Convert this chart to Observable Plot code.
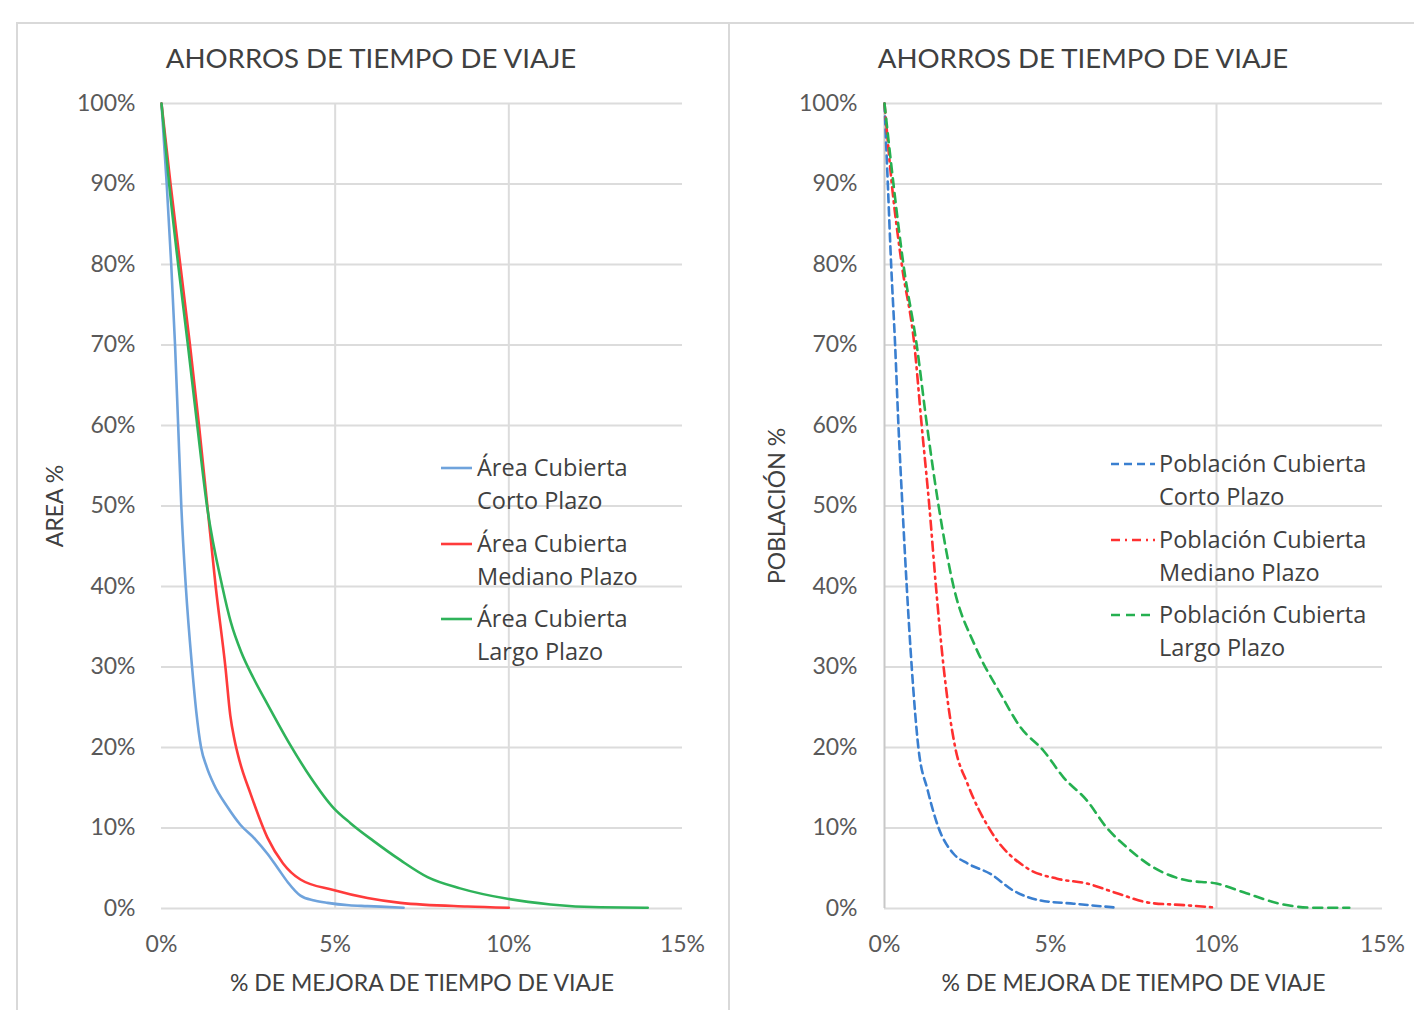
<!DOCTYPE html>
<html><head><meta charset="utf-8">
<script src="https://cdn.jsdelivr.net/npm/d3@7"></script>
<script src="https://cdn.jsdelivr.net/npm/@observablehq/plot@0.6"></script>
<style>
html,body{margin:0;padding:0;background:#fff;}
#wrap{position:relative;width:1414px;height:1010px;overflow:hidden;font-family:Lato,"Liberation Sans",sans-serif;}
.frame{position:absolute;border-top:2px solid #d9d9d9;border-left:2px solid #d9d9d9;}
.title{position:absolute;font-size:27.6px;color:#404040;white-space:nowrap;transform:translate(-50%,-50%);}
.plot{position:absolute;top:80px;}
.leg{position:absolute;font-family:"Open Sans",sans-serif;font-size:23.5px;color:#404040;line-height:33px;white-space:nowrap;}
.leg svg{position:absolute;}
svg [aria-label="x-axis label"] text, svg [aria-label="y-axis label"] text{font-size:23px;fill:#404040;}
</style></head>
<body><div id="wrap">
<div class="frame" style="left:16px;top:22px;width:1400px;height:1000px"></div>
<div class="frame" style="left:728px;top:22px;width:700px;height:1000px;border-top:none"></div>
<div class="title" style="left:371px;top:57px">AHORROS DE TIEMPO DE VIAJE</div>
<div class="title" style="left:1083px;top:57px">AHORROS DE TIEMPO DE VIAJE</div>
<div id="p1" class="plot" style="left:16px"></div>
<div id="p2" class="plot" style="left:728px"></div>
<div id="leg1"></div><div id="leg2"></div>
</div>
<script>
// ---- data (x = % mejora de tiempo de viaje, y = % cubierto) ----
const xTicks = [0, 5, 10, 15];
const yTicks = [0, 10, 20, 30, 40, 50, 60, 70, 80, 90, 100];
const chartTitle = "AHORROS DE TIEMPO DE VIAJE";
const xLabel = "% DE MEJORA DE TIEMPO DE VIAJE";

const areaSeries = ["Área Cubierta Corto Plazo", "Área Cubierta Mediano Plazo", "Área Cubierta Largo Plazo"];
const areaCorto = [[0,100],[0.15,90],[0.28,80],[0.39,70],[0.48,60],[0.57,50],[0.7,40],[0.88,30],[1.0,24.5],[1.14,20],[1.3,17.6],[1.5,15.5],[1.9,12.6],[2.27,10.4],[2.7,8.6],[3.05,6.8],[3.35,5],[3.63,3.3],[4.0,1.6],[4.4,1.0],[4.78,0.7],[5.4,0.4],[5.93,0.3],[6.97,0.1]];
const areaMediano = [[0,100],[0.26,90],[0.54,80],[0.82,70],[1.08,60],[1.32,50],[1.56,40],[1.84,30],[1.98,24],[2.1,21],[2.25,18.3],[2.56,14.3],[3.05,8.8],[3.5,5.6],[4.0,3.6],[4.95,2.3],[5.93,1.3],[6.88,0.7],[8.8,0.25],[10,0.1]];
const areaLargo = [[0,100],[0.22,90],[0.48,80],[0.76,70],[1.03,60],[1.31,50],[1.75,40],[2.0,35.5],[2.3,31.8],[2.65,28.6],[3.05,25.4],[3.71,20.3],[4.29,16.3],[4.95,12.5],[5.44,10.6],[6.1,8.4],[6.88,6],[7.66,3.9],[8.6,2.5],[9.96,1.2],[11.2,0.5],[12.64,0.15],[14,0.1]];

const poblSeries = ["Población Cubierta Corto Plazo", "Población Cubierta Mediano Plazo", "Población Cubierta Largo Plazo"];
const poblCorto = [[0,100],[0.1,90],[0.2,80],[0.32,70],[0.42,60],[0.54,50],[0.67,40],[0.82,30],[1.02,20],[1.3,14.7],[1.63,10],[2.08,6.8],[2.5,5.6],[3.19,4.3],[3.89,2.2],[4.7,1.0],[5.7,0.6],[7.0,0.1]];
const poblMediano = [[0,100],[0.22,90],[0.52,80],[0.9,70],[1.12,60],[1.35,50],[1.55,40],[1.78,30],[2.13,20],[2.5,15.5],[3.19,9.7],[4.3,5],[5.2,3.7],[6.1,3.1],[7.0,1.9],[8.0,0.7],[9.1,0.4],[10,0.1]];
const poblLargo = [[0,100],[0.27,90],[0.57,80],[0.97,70],[1.28,60],[1.63,50],[2.08,40],[2.73,32.6],[3.49,26.7],[4.1,22.5],[4.79,19.6],[5.39,16.3],[6.1,13.4],[6.7,10],[7.3,7.6],[8.1,5.1],[9.1,3.5],[10,3.1],[10.9,1.9],[11.9,0.6],[12.9,0.1],[14,0.1]];

// ---- styles ----
const areaColors = ["#6fa3dc", "#ff3b3b", "#2fb35a"];
const poblColors = ["#3a7fd0", "#ff3030", "#25b050"];
const poblDash = ["8,5", "9,5,2,5", "9,6"];
const gridColor = "#dcdcdc";

function toRows(arr, name) { return arr.map(([x, y]) => ({x, y, name})); }

function makePlot(opts) {
  const {series, data, colors, dash, vgrid, axisLine, yLabel, width, marginLeft, marginRight, yPad, yLabelOffset} = opts;
  const marks = [
    Plot.ruleY(yTicks, {x1: 0, x2: 15, stroke: gridColor, strokeWidth: 2}),
    Plot.ruleX(vgrid, {y1: 0, y2: 100, stroke: gridColor, strokeWidth: 2}),
  ];
  if (axisLine) marks.push(Plot.ruleX([0], {y1: 0, y2: 100, stroke: "#c8c8c8", strokeWidth: 2}));
  marks.push(
    Plot.axisX({ticks: xTicks, tickFormat: d => d + "%", tickSize: 0, tickPadding: 27,
      label: xLabel, labelAnchor: "center", labelArrow: "none", labelOffset: 82}),
    Plot.axisY({ticks: yTicks, tickFormat: d => d + "%", tickSize: 0, tickPadding: yPad,
      label: yLabel, labelAnchor: "center", labelArrow: "none", labelOffset: yLabelOffset})
  );
  data.forEach((d, i) => {
    marks.push(Plot.line(toRows(d, series[i]), {x: "x", y: "y", stroke: colors[i], strokeWidth: 2.6,
      strokeDasharray: dash ? dash[i] : null, curve: "monotone-x"}));
  });
  return Plot.plot({
    width, height: 925, marginLeft, marginRight, marginTop: 23, marginBottom: 97,
    x: {domain: [0, 15]}, y: {domain: [0, 100]},
    style: {fontFamily: "Lato, 'Liberation Sans', sans-serif", fontSize: "23px", color: "#595959", background: "transparent", overflow: "visible"},
    marks
  });
}

document.getElementById("p1").append(makePlot({
  series: areaSeries, data: [areaCorto, areaMediano, areaLargo], colors: areaColors,
  dash: null, vgrid: [5, 10], axisLine: false, yLabel: "AREA %", width: 712, marginLeft: 145, marginRight: 46,
  yPad: 26, yLabelOffset: 115
}));
document.getElementById("p2").append(makePlot({
  series: poblSeries, data: [poblCorto, poblMediano, poblLargo], colors: poblColors,
  dash: poblDash, vgrid: [10], axisLine: true, yLabel: "POBLACIÓN %", width: 686, marginLeft: 156, marginRight: 32,
  yPad: 27, yLabelOffset: 116
}));

function legend(el, series, colors, dash, left, tops, swW, textLeft) {
  const host = document.getElementById(el);
  series.forEach((s, i) => {
    const words = s.split(" ");
    const l1 = words.slice(0, 2).join(" "), l2 = words.slice(2).join(" ");
    const d = document.createElement("div");
    d.className = "leg";
    d.style.left = textLeft + "px";
    d.style.top = (tops[i] - 17) + "px";
    d.innerHTML = l1 + "<br>" + l2;
    const ns = "http://www.w3.org/2000/svg";
    const sv = document.createElementNS(ns, "svg");
    sv.setAttribute("width", swW); sv.setAttribute("height", 6);
    sv.style.left = (left - textLeft) + "px"; sv.style.top = "14px";
    const ln = document.createElementNS(ns, "line");
    ln.setAttribute("x1", 0); ln.setAttribute("x2", swW); ln.setAttribute("y1", 3); ln.setAttribute("y2", 3);
    ln.setAttribute("stroke", colors[i]); ln.setAttribute("stroke-width", 2.6);
    if (dash) ln.setAttribute("stroke-dasharray", dash[i]);
    sv.append(ln);
    d.append(sv);
    host.append(d);
  });
}
legend("leg1", areaSeries, areaColors, null, 441, [468, 544, 619], 31, 477);
legend("leg2", poblSeries, poblColors, poblDash, 1111, [464, 540, 615], 44, 1159);
</script>
</body></html>
